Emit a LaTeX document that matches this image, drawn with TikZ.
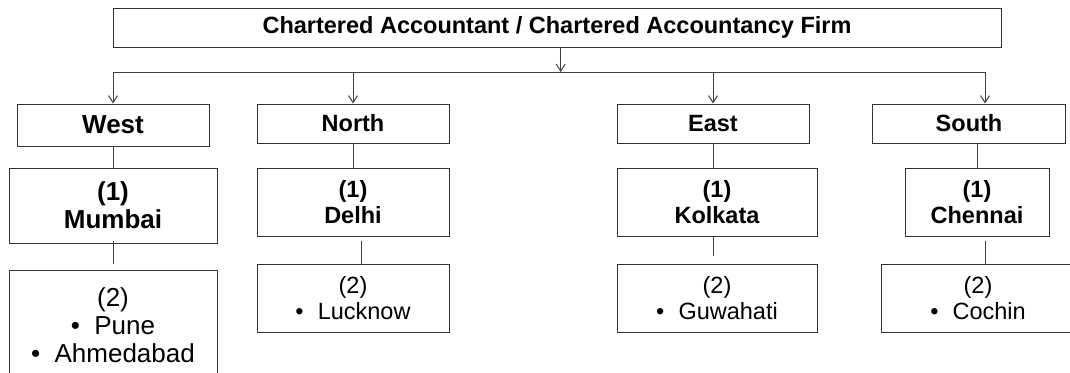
\documentclass[tikz,border=0pt]{standalone}
\usepackage{fontspec}
\setmainfont{Liberation Sans}
\usetikzlibrary{arrows.meta}
\begin{document}
\begin{tikzpicture}[x=1pt,y=-1pt,
  line width=1pt,
  box/.style={draw=black!80, rectangle, inner sep=0pt, align=center, text=black},
  link/.style={draw=black!75, line width=1pt},
  arr/.style={link, -{Straight Barb[length=7pt,width=9pt]}},
  ttl/.style={font=\fontsize{23.5}{26}\selectfont\bfseries},
  big/.style={font=\fontsize{26}{28}\selectfont\bfseries},
  mid/.style={font=\fontsize{23.5}{26}\selectfont\bfseries},
  lst/.style={font=\fontsize{23.5}{26}\selectfont},
  lstbig/.style={font=\fontsize{26}{28}\selectfont}
]
\useasboundingbox (0,0) rectangle (1070,372);

% top box
\node[box, ttl, minimum width=888pt, minimum height=39pt] (top) at (557,27.5)
  {Chartered Accountant / Chartered Accountancy Firm};

% distribution bus
\coordinate (busL) at (113,72);
\coordinate (busR) at (985,72);

% regions
\node[box, big, minimum width=192pt, minimum height=42pt] (west) at (113,125) {West};
\node[box, mid, minimum width=192pt, minimum height=39pt] (north) at (353,123.5) {North};
\node[box, mid, minimum width=192pt, minimum height=39pt] (east) at (713,123.5) {East};
\node[box, mid, minimum width=193pt, minimum height=39pt] (south) at (969,123.5) {South};

% head offices
\node[box, big, minimum width=208pt, minimum height=75pt] (mumbai) at (113,205.5) {(1)\\Mumbai};
\node[box, mid, minimum width=192pt, minimum height=68pt] (delhi) at (353,202) {(1)\\Delhi};
\node[box, mid, minimum width=200pt, minimum height=68pt] (kolkata) at (717,202) {(1)\\Kolkata};
\node[box, mid, minimum width=144pt, minimum height=68pt] (chennai) at (977,202) {(1)\\Chennai};

% branch offices
\node[box, lstbig, minimum width=208pt, minimum height=110pt] (westb) at (113,325)
  {(2)\\•\hspace{0.55em}Pune\\•\hspace{0.55em}Ahmedabad};
\node[box, lst, minimum width=192pt, minimum height=68pt] (northb) at (353,298)
  {(2)\\•\hspace{0.6em}Lucknow};
\node[box, lst, minimum width=200pt, minimum height=68pt] (eastb) at (717,298)
  {(2)\\•\hspace{0.6em}Guwahati};
\node[box, lst, minimum width=194pt, minimum height=68pt] (southb) at (978,298)
  {(2)\\•\hspace{0.6em}Cochin};

% connectors from the top box
\draw[link] (busL) -- (busR);
\draw[arr] ([xshift=3.7pt]top.south) -- ([xshift=3.7pt]top.south |- busL);
\draw[arr] (busL) -- (west.north);
\draw[arr] (busL -| north.north) -- (north.north);
\draw[arr] (busL -| east.north) -- (east.north);
\draw[arr] (busR) -- (busR |- south.north);

% region to head office
\draw[link] (west.south) -- (mumbai.north);
\draw[link] (north.south) -- (delhi.north);
\draw[link] (east.south) -- (east.south |- kolkata.north);
\draw[link] (chennai.north |- south.south) -- (chennai.north);

% head office to branches
\draw[link] ([yshift=3pt]mumbai.south) -- ([yshift=6pt]westb.north);
\draw[link] ([xshift=8pt,yshift=-4pt]delhi.south) -- ([xshift=8pt]northb.north);
\draw[link] ([xshift=-4pt,yshift=1pt]kolkata.south) -- ([xshift=-4pt,yshift=8pt]eastb.north);
\draw[link] ([xshift=8pt,yshift=-4pt]chennai.south) -- ([xshift=7pt]southb.north);
\end{tikzpicture}
\end{document}
